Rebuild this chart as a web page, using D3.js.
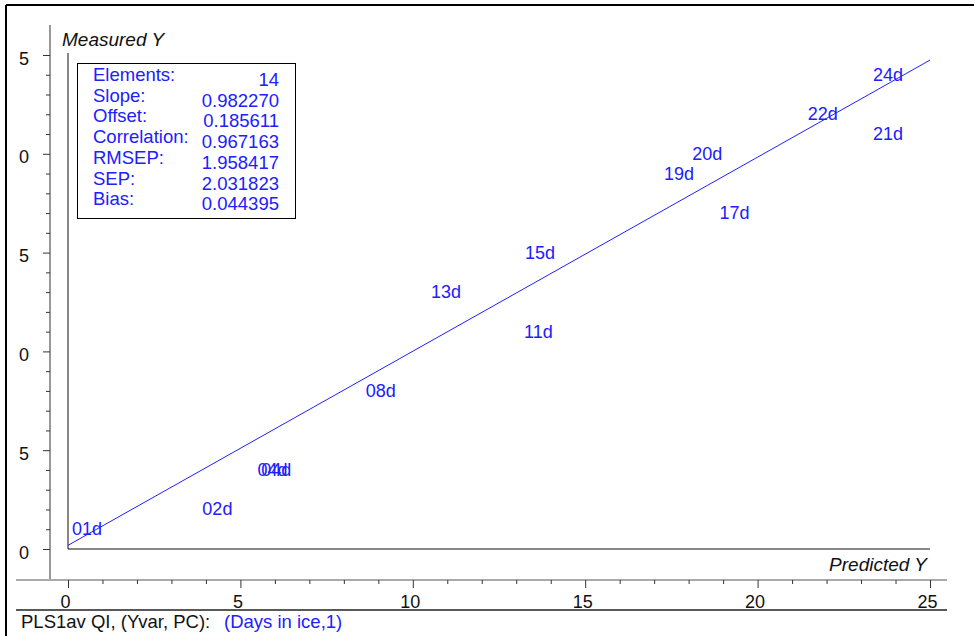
<!DOCTYPE html>
<html>
<head>
<meta charset="utf-8">
<script src="https://cdn.jsdelivr.net/npm/d3@7"></script>
<style>
  html, body { margin: 0; padding: 0; background: #fff; }
  svg text { font-family: "Liberation Sans", Arial, sans-serif; }
</style>
</head>
<body>
<svg id="chart" width="974" height="636"></svg>
<script>
// samples: label, measured Y (days), predicted Y
const sampleNames = ['01d', '02d', '04d', '04d', '08d', '11d', '13d', '15d', '17d', '19d', '20d', '21d', '22d', '24d'];
const measured = [1, 2, 4, 4, 8, 11, 13, 15, 17, 19, 20, 21, 22, 24];
const predicted = [0.03, 3.81, 5.41, 5.52, 8.55, 13.14, 10.44, 13.17, 18.81, 17.2, 18.02, 23.26, 21.37, 23.26];

// regression statistics shown in the box
const statNames = ['Elements:', 'Slope:', 'Offset:', 'Correlation:', 'RMSEP:', 'SEP:', 'Bias:'];
const statValues = ['14', '0.982270', '0.185611', '0.967163', '1.958417', '2.031823', '0.044395'];
const slope = 0.982270;
const offset = 0.185611;

// axis ticks
const majorTicks = [0, 5, 10, 15, 20, 25];
const minorTicks = [1, 2, 3, 4, 6, 7, 8, 9, 11, 12, 13, 14, 16, 17, 18, 19, 21, 22, 23, 24];

const blue = '#2020ff';
const svg = d3.select('#chart');

const x = d3.scaleLinear().domain([0, 25]).range([68, 930]);
const y = d3.scaleLinear().domain([0, 25]).range([549, 55]);

// outer frame (top + left only)
svg.append('line').attr('x1', 6).attr('x2', 974).attr('y1', 5).attr('y2', 5)
  .attr('stroke', '#000').attr('stroke-width', 2);
svg.append('line').attr('x1', 6).attr('x2', 6).attr('y1', 5).attr('y2', 636)
  .attr('stroke', '#000').attr('stroke-width', 2);

// left y axis
const yAxisX = 50;
svg.append('line').attr('x1', yAxisX).attr('x2', yAxisX).attr('y1', 25).attr('y2', 579)
  .attr('stroke', '#333');

const yMajor = svg.append('g').attr('transform', `translate(${yAxisX},0)`)
  .call(d3.axisLeft(y).tickValues(majorTicks).tickSize(7).tickPadding(14)
    .tickFormat(d => d % 10));
const yMinor = svg.append('g').attr('transform', `translate(${yAxisX},0)`)
  .call(d3.axisLeft(y).tickValues(minorTicks).tickSize(4).tickFormat(''));

// bottom x axis
const xAxisY = 580;
svg.append('line').attr('x1', 16).attr('x2', 947).attr('y1', xAxisY).attr('y2', xAxisY)
  .attr('stroke', '#555');

const xMajor = svg.append('g').attr('transform', `translate(0,${xAxisY})`)
  .call(d3.axisBottom(x).tickValues(majorTicks).tickSize(8).tickPadding(7));
const xMinor = svg.append('g').attr('transform', `translate(0,${xAxisY})`)
  .call(d3.axisBottom(x).tickValues(minorTicks).tickSize(4).tickFormat(''));

[yMajor, yMinor, xMajor, xMinor].forEach(g => {
  g.select('.domain').remove();
  g.selectAll('line').attr('stroke', '#333');
  g.selectAll('text')
    .attr('fill', '#111')
    .style('font-size', '18px')
    .style('font-family', '"Liberation Sans", Arial, sans-serif');
});
yMajor.selectAll('text').attr('dy', '0.5em');
xMajor.selectAll('text').attr('dx', '-3');

// inner origin axes
svg.append('line').attr('x1', x(0)).attr('x2', x(0)).attr('y1', 53).attr('y2', y(0))
  .attr('stroke', '#111');
svg.append('line').attr('x1', x(0)).attr('x2', x(25)).attr('y1', y(0)).attr('y2', y(0))
  .attr('stroke', '#111');

// axis titles
svg.append('text').attr('x', 62).attr('y', 46)
  .style('font-size', '19px').style('font-style', 'italic').attr('fill', '#111')
  .text('Measured Y');
svg.append('text').attr('x', 927).attr('y', 571).attr('text-anchor', 'end')
  .style('font-size', '19px').style('font-style', 'italic').attr('fill', '#111')
  .text('Predicted Y');

// regression line
svg.append('line')
  .attr('x1', x(0)).attr('y1', y(offset))
  .attr('x2', x(25)).attr('y2', y(offset + slope * 25))
  .attr('stroke', blue).attr('stroke-width', 1);

// sample labels
svg.append('g').selectAll('text')
  .data(sampleNames)
  .join('text')
  .attr('x', (d, i) => x(predicted[i]) + 3)
  .attr('y', (d, i) => y(measured[i]) + 6)
  .attr('fill', blue)
  .style('font-size', '18px')
  .text(d => d);

// statistics box
svg.append('rect').attr('x', 77.5).attr('y', 63.5).attr('width', 218).attr('height', 155)
  .attr('fill', '#fff').attr('stroke', '#000');
const stats = svg.append('g');
stats.selectAll('.stat-name')
  .data(statNames)
  .join('text')
  .attr('class', 'stat-name')
  .attr('x', 93)
  .attr('y', (d, i) => 81 + i * 20.7)
  .attr('fill', blue)
  .style('font-size', '18.5px')
  .text(d => d);
stats.selectAll('.stat-value')
  .data(statValues)
  .join('text')
  .attr('class', 'stat-value')
  .attr('x', 279)
  .attr('y', (d, i) => 86 + i * 20.7)
  .attr('text-anchor', 'end')
  .attr('fill', blue)
  .style('font-size', '18.5px')
  .text(d => d);

// footer
svg.append('line').attr('x1', 16).attr('x2', 947).attr('y1', 610).attr('y2', 610)
  .attr('stroke', '#222').attr('stroke-width', 1.5);
svg.append('text').attr('x', 21).attr('y', 628)
  .style('font-size', '18.5px').attr('fill', '#111')
  .text('PLS1av QI, (Yvar, PC):');
svg.append('text').attr('x', 224).attr('y', 628)
  .style('font-size', '18.5px').attr('fill', blue)
  .text('(Days in ice,1)');
</script>
</body>
</html>
